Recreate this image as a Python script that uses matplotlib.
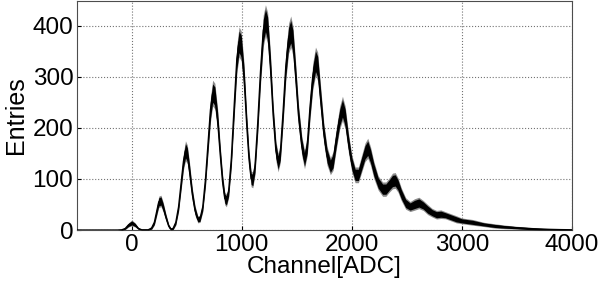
import matplotlib
matplotlib.use("Agg")
import matplotlib.pyplot as plt
import numpy as np

plt.rcParams['font.family'] = ['Liberation Sans', 'DejaVu Sans']

channel = [
    -500, -130, -90, -60, -30, 0, 30, 60, 90,
    150, 180, 205, 225, 245, 265, 285, 310, 335, 355,
    375, 400, 425, 450, 470, 488, 505, 525, 550, 575, 600,
    620, 645, 670, 695, 715, 735, 755, 780, 805, 825, 845,
    860, 880, 905, 930, 955, 975, 995, 1020, 1045, 1065, 1085,
    1100, 1120, 1145, 1170, 1195, 1215, 1235, 1260, 1285, 1310,
    1330, 1350, 1375, 1400, 1425, 1445, 1465, 1490, 1515, 1545,
    1570, 1595, 1620, 1645, 1670, 1690, 1715, 1745, 1775,
    1805, 1830, 1860, 1890, 1915, 1940, 1970, 2000,
    2030, 2060, 2090, 2120, 2145, 2170, 2200, 2240,
    2280, 2310, 2340, 2370, 2395, 2420, 2450, 2490,
    2530, 2570, 2610, 2650, 2690, 2730, 2770, 2810, 2850, 2900, 2950,
    3000, 3100, 3200, 3300, 3400, 3500, 3600, 3700, 3800, 3900, 4000,
]
entries = [
    0, 0, 0.5, 3, 10, 14, 10, 3, 0.5,
    0.5, 4, 15, 35, 55, 57, 45, 25, 8, 2,
    3, 15, 45, 95, 135, 155, 148, 115, 70, 38, 21,
    22, 45, 100, 175, 235, 268, 262, 215, 145, 95, 62,
    58, 75, 140, 240, 335, 368, 360, 300, 205, 140, 100,
    98, 125, 210, 310, 390, 410, 395, 320, 225, 155,
    132, 150, 230, 320, 375, 388, 370, 300, 225, 165,
    138, 165, 240, 300, 330, 320, 260, 190, 145,
    125, 135, 180, 220, 238, 220, 170, 130,
    108, 108, 130, 152, 160, 145, 118, 92,
    80, 80, 88, 96, 97, 88, 70, 52,
    46, 50, 53, 48, 40, 34, 30, 31, 29, 25, 21,
    18, 15, 11, 8, 6, 4.5, 3, 2, 1.3, 0.8, 0.5,
]
spread = [
    0, 0, 0.5, 1.5, 3, 4, 3, 1.5, 0.5,
    0.5, 2, 4, 6, 8, 8, 7, 5, 3, 1.5,
    2, 4, 7, 10, 12, 14, 13, 12, 9, 7, 5,
    5, 7, 11, 14, 17, 18, 18, 16, 13, 11, 9,
    9, 9, 13, 17, 20, 21, 21, 19, 16, 13, 11,
    11, 12, 16, 19, 22, 22, 22, 20, 16, 14,
    13, 13, 17, 20, 21, 22, 21, 19, 16, 14,
    13, 14, 17, 19, 20, 20, 18, 15, 13,
    12, 13, 15, 16, 17, 16, 14, 12,
    11, 11, 12, 13, 14, 13, 12, 10,
    10, 10, 10, 11, 11, 10, 9, 8,
    7, 8, 8, 7, 7, 6, 6, 6, 5, 5, 5,
    4, 4, 3, 3, 2.5, 2, 2, 1.5, 1, 1, 0.7,
]

x_ticks = [0, 1000, 2000, 3000, 4000]
y_ticks = [0, 100, 200, 300, 400]

x = np.array(channel, dtype=float)
y = np.array(entries, dtype=float)
s = np.array(spread, dtype=float)

fig = plt.figure(figsize=(6.0, 2.84), dpi=100)
ax = fig.add_axes([0.128, 0.19, 0.825, 0.808])

ax.fill_between(x, np.maximum(y - 1.4 * s, 0), y + 1.4 * s, color='0.55', lw=0, zorder=2)
ax.fill_between(x, np.maximum(y - s, 0), y + s, color='black', lw=0, zorder=3)
ax.plot(x, y, color='black', lw=1.0, zorder=4)

ax.set_xlim(-500, 4000)
ax.set_ylim(0, 449)
ax.set_xticks(x_ticks)
ax.set_yticks(y_ticks)
ax.grid(True, linestyle=':', color='0.45', linewidth=0.8)
ax.set_axisbelow(True)
ax.tick_params(direction='in', length=3, labelsize=17.5, colors='black', pad=2.5)
for sp in ax.spines.values():
    sp.set_color('0.3')
    sp.set_linewidth(0.8)
ax.set_xlabel('Channel[ADC]', fontsize=17.5, labelpad=0)
ax.set_ylabel('Entries', fontsize=18, labelpad=3)

fig.savefig('out.png', dpi=100)
